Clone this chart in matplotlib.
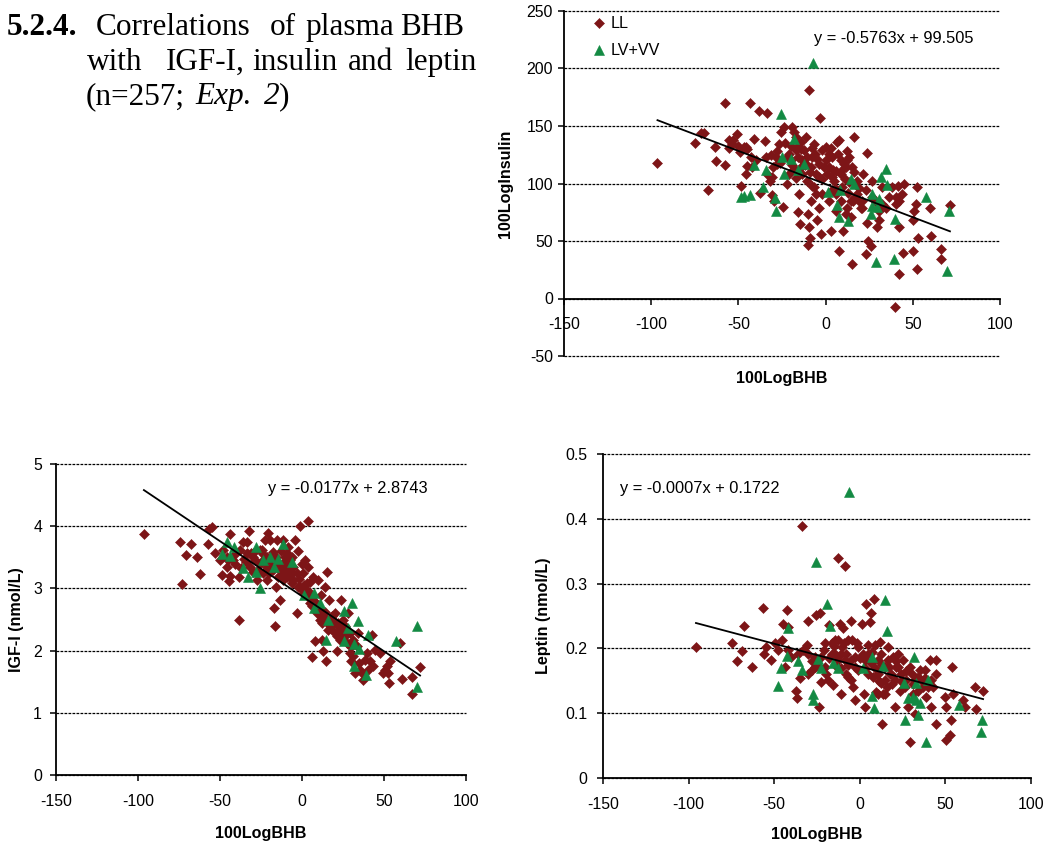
import matplotlib
matplotlib.use("Agg")
import matplotlib.pyplot as plt
import numpy as np

plt.rcParams['font.family'] = ['Liberation Sans', 'DejaVu Sans']

# ---------------- data ----------------
x_ticks = [-150, -100, -50, 0, 50, 100]

# Insulin panel
ins_ll_x = [-96.4, -74.6, -71.7, -70.0, -67.5, -63.7, -62.7, -57.4, -57.4, -55.4,
            -53.0, -51.0, -50.3, -49.3, -48.6, -46.8, -44.9, -45.5, -44.9, -43.2,
            -41.3, -38.0, -37.9, -35.0, -33.8, -32.9, -32.1, -31.2, -31.0, -30.4,
            -29.4, -27.7, -24.5, -25.8, -23.9, -23.5, -22.2, -21.0, -19.1, -18.2,
            -17.2, -16.6, -15.9, -15.3, -15.7, -14.7, -14.3, -13.4, -12.4, -11.5,
            -10.5, -10.3, -9.9, -9.6, -9.4, -9.0, -8.4, -7.6, -6.7, -5.7,
            -5.2, -3.8, -3.1, -2.9, -2.3, -1.9, -1.0, 0.0, 1.0, 1.9,
            2.9, 3.8, 4.8, 5.7, 6.7, 7.6, 7.6, 8.6, 9.6, 10.1,
            11.5, 12.4, 13.4, 14.3, 15.3, 16.3, 16.8, 18.2, 20.1, 21.6,
            22.9, 23.7, 22.9, 23.9, 24.5, 25.8, 26.8, 28.3, 29.3, 30.6,
            32.1, 34.4, 36.3, 38.2, 39.6, 40.2, 41.3, 41.9, 42.1, 44.0,
            44.6, 44.9, 50.4, 50.1, 50.7, 52.0, 52.6, 52.6, 52.8, 59.8,
            60.4, 66.3, 66.3, 71.3,
            -21.0, -20.0, -18.2, -17.2, -14.3, -13.4, -11.9, -10.5, -8.6, -6.7,
            -4.8, -3.8, 1.9, 3.8, 5.7, 7.3, 8.6, 10.5, 12.4, 13.4,
            15.3, 15.7, 18.2, 19.1, 21.0, 3.8, 5.7, -5.7, -7.6, 8.6,
            11.5, 14.3, 26.8, 30.6, 32.5, 40.2, 42.1,
            -40.0, -42.6, -53.5, -55.4, -45.9, -42.0, -34.4, -28.7, -26.8, -30.6,
            -28.0, -26.0, -22.0, -19.0, -17.0, -12.0, -9.0, -6.0, -4.0, -2.0,
            0.0, 2.0, 4.0, 6.0, 9.0, 11.0, 13.0, 16.0, 19.0, 21.0,
            -20.0, -14.0, -8.0, 3.0, 12.0]
ins_ll_y = [118, 135.5, 144, 144, 94, 132, 119.5, 170, 116, 130.5,
            137.5, 143, 132.6, 127, 98, 131.7, 130, 108, 115, 170,
            139, 163, 91.5, 137, 161.6, 107, 102.6, 125, 90, 114,
            85, 117, 80, 145, 149, 135, 99.7, 108, 149, 145,
            140, 131.7, 123, 91, 75, 65, 114, 108, 129, 140,
            102.6, 46.5, 73.5, 62, 181, 53, 85, 123, 97, 108,
            68, 79, 156.7, 56, 129, 91, 114, 131.7, 108, 85,
            59, 123, 102.6, 76.5, 136, 137.5, 41.6, 120, 97, 59,
            114, 79, 123, 70.6, 30, 140, 88, 102.6, 79, 108,
            94, 126.5, 38.7, 66, 50, 46, 102.6, 85, 62, 68,
            97, 79, 88, 97, -7, 82, 98, 21, 62, 91,
            39.5, 99.7, 41.6, 68, 76.5, 82, 97, 25.6, 53, 79,
            54.7, 43, 34.3, 81,
            126, 120, 113, 129, 130, 120, 115.7, 123, 114, 134.6,
            121.5, 105.5, 114, 105.5, 111, 126, 108, 117, 120, 101,
            114, 85, 91, 85, 79, 94, 91, 91, 98, 85,
            73.5, 85, 88, 76.5, 82, 88, 85,
            120, 123, 134.6, 137.5, 131.7, 114, 123, 123, 134.6, 105.5,
            128, 118, 123, 116, 105, 118, 110, 126, 117, 104,
            120, 126, 112, 95, 111, 104, 92, 110, 96, 85,
            133, 136, 131, 131, 128]
ins_lv_x = [-7.5, -25.8, -48.4, -46.7, -43.6, -41.1, -36.0, -34.0, -28.9, -28.7,
            -25.0, -23.7, -19.9, -18.0, -15.7, -12.4, 1.5, 6.5, 8.0, 7.6,
            12.8, 14.3, 16.3, 26.4, 25.8, 26.4, 29.6, 30.6, 31.5, 34.4,
            35.0, 28.7, 39.2, 39.6, 57.4, 69.8, 70.7]
ins_lv_y = [205, 160.8, 88, 89.5, 90.4, 116, 97, 112, 87.5, 76.5,
            123, 108, 121.5, 139, 112, 116.6, 92.4, 81.7, 94, 71,
            67.7, 104, 100, 91, 73.5, 80.8, 79.4, 86.6, 105.5, 112.8,
            99, 31.4, 34.3, 69, 88, 24, 76.5]
ins_slope, ins_intercept = -0.5763, 99.505
ins_yticks = [-50, 0, 50, 100, 150, 200, 250]

# IGF-I panel
igf_ll_x = [-96.4, -74.5, -73.0, -70.8, -67.7, -64.3, -62.2, -57.2, -56.8, -54.7,
            -53.1, -49.0, -50.0, -46.0, -44.3, -43.9, -43.9, -41.9, -38.2, -38.2,
            -36.2, -35.2, -33.4, -32.1, -31.3, -29.7, -28.7, -25.6, -24.6, -23.6,
            -21.6, -20.5, -19.5, -18.5, -17.5, -17.1, -16.3, -15.9, -14.4, -13.4,
            -12.4, -11.4, -10.4, -9.4, -8.3, -7.3, -6.3, -5.3, -4.3, -3.3,
            -2.6, -2.2, -1.2, -0.2, 0.8, 1.8, 2.8, 3.9, 3.9, 4.9,
            5.9, 6.1, 6.9, 7.9, 9.0, 10.0, 11.0, 11.4, 12.0, 13.0,
            14.0, 14.6, 15.0, 16.1, 16.7, 17.5, 19.1, 20.1, 21.6, 22.2,
            23.2, 24.0, 25.2, 26.2, 28.3, 29.3, 29.7, 31.3, 33.4, 34.4,
            35.0, 36.4, 37.4, 39.5, 40.5, 41.5, 42.5, 43.1, 44.5, 51.7,
            52.7, 53.3, 53.7, 59.8, 60.8, 67.0, 67.3, 72.0,
            -23.6, -21.6, -19.5, -17.5, -15.5, -13.4, -11.4, -10.4, -9.4, -8.3,
            -7.3, -5.3, -3.3, -1.2, 0.8, 2.8, 4.9, 6.9, 9.0, 11.0,
            13.0, 15.0, 17.1, 19.1, 21.2, 23.2, 25.2, 27.3, 29.3, 31.3,
            32.3, 35.4, 38.5, 47.6, 49.6, 50.6, -29.7, -33.8, -37.8, -40.9,
            -46.0, -48.0, -31.7, -27.7, -21.6, -25.6, -22.6, -15.5, -11.4, -9.4,
            -6.3,
            -45.0, -41.0, -37.0, -34.0, -30.0, -27.0, -24.0, -20.0, -16.0, -13.0,
            -9.0, -6.0, -2.0, 1.0, 3.0, 5.0, 8.0, 10.0, 12.0, 14.0,
            18.0, 22.0, 24.0, 27.0, 30.0]
igf_ll_y = [3.87, 3.75, 3.07, 3.54, 3.72, 3.50, 3.23, 3.72, 3.95, 3.98,
            3.57, 3.21, 3.46, 3.35, 3.12, 3.87, 3.20, 3.46, 3.19, 2.49,
            3.75, 3.47, 3.75, 3.93, 3.57, 3.27, 3.46, 3.40, 3.62, 3.24,
            3.51, 3.89, 3.78, 3.35, 3.59, 2.68, 2.40, 3.03, 3.19, 2.82,
            3.40, 3.24, 3.51, 3.30, 3.67, 3.19, 3.08, 3.35, 3.78, 2.60,
            3.60, 3.03, 4.00, 3.40, 3.24, 3.46, 3.08, 4.08, 3.35, 2.92,
            2.71, 1.90, 3.19, 2.15, 2.60, 3.14, 2.49, 2.90, 2.17, 1.99,
            3.03, 1.83, 3.27, 2.33, 2.82, 2.39, 2.49, 2.60, 1.99, 2.39,
            2.17, 2.82, 2.49, 2.39, 2.60, 2.28, 1.84, 2.17, 2.07, 2.28,
            1.80, 1.64, 1.52, 1.96, 1.69, 1.83, 2.25, 1.75, 2.01, 1.75,
            1.64, 1.48, 1.83, 2.12, 1.55, 1.57, 1.31, 1.73,
            3.46, 3.35, 3.46, 3.30, 3.40, 3.30, 3.14, 3.35, 3.19, 3.40,
            3.46, 3.14, 3.24, 3.03, 2.92, 2.87, 2.76, 2.82, 2.71, 2.66,
            2.55, 2.47, 2.39, 2.31, 2.23, 2.33, 2.17, 2.12, 1.96, 1.91,
            1.64, 1.69, 1.85, 1.96, 1.64, 1.69, 3.57, 3.57, 3.62, 3.40,
            3.51, 3.62, 3.35, 3.14, 3.14, 3.62, 3.78, 3.78, 3.78, 3.57,
            3.51,
            3.45, 3.55, 3.33, 3.42, 3.50, 3.30, 3.55, 3.25, 3.50, 3.60,
            3.45, 3.25, 3.15, 3.05, 2.98, 3.10, 2.78, 2.60, 2.45, 2.62,
            2.55, 2.45, 2.30, 2.25, 2.05]
igf_lv_x = [-48.8, -46.0, -43.9, -41.3, -35.8, -32.8, -28.1, -27.9, -25.4, -23.6,
            -19.5, -17.1, -14.4, -11.8, -6.3, 1.2, 7.3, 7.5, 11.0, 16.1,
            14.4, 25.8, 25.6, 30.3, 31.7, 31.7, 34.4, 34.8, 40.5, 39.1,
            57.4, 70.4, 70.4, 28.3]
igf_lv_y = [3.55, 3.74, 3.52, 3.67, 3.32, 3.19, 3.66, 3.26, 3.01, 3.46,
            3.51, 3.34, 3.47, 3.71, 3.42, 2.89, 2.92, 2.68, 2.76, 2.49,
            2.17, 2.64, 2.16, 2.76, 2.10, 1.76, 2.47, 2.02, 2.25, 1.60,
            2.16, 2.40, 1.41, 2.36]
igf_slope, igf_intercept = -0.0177, 2.8743
igf_yticks = [0, 1, 2, 3, 4, 5]

# Leptin panel
lep_ll_x = [-95.7, -74.9, -72.0, -69.0, -67.9, -62.8, -56.4, -56.0, -54.5, -51.6,
            -49.6, -47.7, -44.7, -42.8, -41.8, -43.8, -39.9, -37.0, -36.6, -35.0,
            -33.5, -33.1, -31.1, -30.2, -28.2, -26.3, -25.3, -23.3, -23.9, -22.4,
            -20.4, -19.5, -18.1, -16.5, -15.6, -14.6, -13.6, -12.6, -11.7, -10.7,
            -10.3, -9.7, -8.8, -8.8, -7.8, -6.8, -5.3, -4.5, -3.9, -2.9,
            -1.9, -1.0, 1.0, 1.9, 2.5, 2.9, 3.9, 4.9, 5.8, 6.8,
            7.8, 8.4, 8.8, 9.7, 10.7, 11.7, 12.6, 13.0, 13.6, 14.6,
            15.6, 16.5, 17.5, 19.5, 20.4, 21.4, 22.4, 23.3, 24.3, 25.3,
            27.2, 28.2, 29.2, 29.6, 31.1, 32.1, 34.0, 35.0, 36.9, 38.9,
            40.9, 41.8, 42.8, 44.4, 44.7, 44.7, 49.6, 50.6, 50.6, 52.5,
            53.1, 53.9, 54.5, 60.3, 61.3, 67.1, 67.7, 72.0,
            -16.5, -14.6, -12.6, -10.7, -6.8, -4.9, -2.9, -1.0, 2.9, 4.9,
            6.8, 10.7, 12.6, 14.6, 16.5, 18.5, 20.4, 22.4, 26.3, 30.2,
            32.1, 35.8, 37.9, 39.9, 41.8, -20.4, -22.4, -18.5, -7.8, -4.9,
            10.7, 14.6, -30.2, -26.3, -36.0, -30.2, -45.7, -41.8,
            -28.0, -24.0, -21.0, -18.0, -15.0, -13.0, -11.0, -9.0, -7.0, -3.0,
            0.0, 3.0, 5.0, 7.0, 9.0, 11.0, 13.0, 17.0, 19.0, 21.0,
            24.0, 27.0, 31.0, 34.0, 38.0]
lep_ll_y = [0.202, 0.208, 0.180, 0.196, 0.235, 0.171, 0.263, 0.192, 0.202, 0.182,
            0.208, 0.197, 0.237, 0.260, 0.233, 0.171, 0.187, 0.135, 0.123, 0.155,
            0.389, 0.197, 0.205, 0.243, 0.166, 0.187, 0.251, 0.254, 0.110, 0.148,
            0.208, 0.161, 0.236, 0.192, 0.143, 0.213, 0.171, 0.339, 0.238, 0.130,
            0.202, 0.231, 0.327, 0.182, 0.192, 0.156, 0.243, 0.213, 0.141, 0.120,
            0.208, 0.166, 0.238, 0.192, 0.130, 0.110, 0.269, 0.161, 0.241, 0.254,
            0.156, 0.277, 0.206, 0.133, 0.182, 0.210, 0.146, 0.084, 0.130, 0.171,
            0.141, 0.202, 0.161, 0.187, 0.110, 0.171, 0.192, 0.135, 0.161, 0.182,
            0.151, 0.110, 0.171, 0.056, 0.130, 0.099, 0.156, 0.166, 0.141, 0.125,
            0.182, 0.110, 0.141, 0.182, 0.083, 0.161, 0.125, 0.110, 0.058, 0.066,
            0.090, 0.171, 0.130, 0.120, 0.110, 0.141, 0.106, 0.135,
            0.208, 0.192, 0.213, 0.192, 0.213, 0.182, 0.187, 0.202, 0.182, 0.192,
            0.177, 0.161, 0.192, 0.151, 0.182, 0.161, 0.151, 0.171, 0.141, 0.161,
            0.151, 0.151, 0.166, 0.141, 0.151, 0.171, 0.187, 0.151, 0.161, 0.151,
            0.130, 0.130, 0.161, 0.171, 0.192, 0.192, 0.213, 0.197,
            0.180, 0.172, 0.197, 0.185, 0.203, 0.182, 0.170, 0.209, 0.175, 0.172,
            0.185, 0.170, 0.205, 0.195, 0.170, 0.150, 0.175, 0.172, 0.145, 0.180,
            0.150, 0.165, 0.145, 0.135, 0.155]
lep_lv_x = [-6.2, -25.7, -18.9, 14.6, -17.5, -42.2, 15.8, -42.8, -24.3, -36.0,
            -46.1, -33.7, -22.4, -15.6, -12.6, -47.7, -27.6, -27.6, 1.6, 7.2,
            13.6, 7.2, 8.2, 31.7, 25.9, 32.7, 39.9, 28.2, 31.1, 32.9,
            35.0, 26.3, 34.0, 38.9, 58.0, 71.6, 71.0]
lep_lv_y = [0.441, 0.333, 0.268, 0.275, 0.235, 0.231, 0.227, 0.188, 0.184, 0.181,
            0.170, 0.167, 0.170, 0.178, 0.170, 0.142, 0.129, 0.120, 0.169, 0.186,
            0.173, 0.126, 0.108, 0.186, 0.146, 0.146, 0.152, 0.123, 0.125, 0.120,
            0.115, 0.090, 0.097, 0.056, 0.112, 0.090, 0.071]
lep_slope, lep_intercept = -0.0007, 0.1722
lep_yticks = [0, 0.1, 0.2, 0.3, 0.4, 0.5]

series_names = ["LL", "LV+VV"]
LL_COLOR = "#7d1517"
LV_COLOR = "#138a43"

# ---------------- figure ----------------
W, H = 1061, 850
fig = plt.figure(figsize=(W / 100, H / 100), dpi=100)


def axes_px(l, t, r, b):
    return fig.add_axes([l / W, 1 - b / H, (r - l) / W, (b - t) / H])


def draw_panel(ax, llx, lly, lvx, lvy, slope, intercept, yticks, ylabel,
               ylab_x, xlab_y, ypad, eq_xy, zero_spine=False):
    ax.plot(llx, lly, linestyle='none', marker='D', ms=5.2, color=LL_COLOR,
            mec=LL_COLOR, mew=0.4, zorder=3, label=series_names[0])
    ax.plot(lvx, lvy, linestyle='none', marker='^', ms=7.4, color=LV_COLOR,
            mec=LV_COLOR, mew=0.4, zorder=4, label=series_names[1])
    allx = np.array(list(llx) + list(lvx))
    xs = np.array([allx.min(), allx.max()])
    ax.plot(xs, slope * xs + intercept, color='black', lw=1.3, zorder=5)
    ax.set_xlim(-150, 100)
    ax.set_ylim(yticks[0], yticks[-1])
    ax.set_xticks(x_ticks)
    ax.set_xticklabels([f"{v:g}" for v in x_ticks])
    ax.set_yticks(yticks)
    ax.set_yticklabels([f"{v:g}" for v in yticks])
    for s in ('top', 'right'):
        ax.spines[s].set_visible(False)
    for s in ('left', 'bottom'):
        ax.spines[s].set_linewidth(1.3)
        ax.spines[s].set_color('black')
        ax.spines[s].set_zorder(2.5)
    if zero_spine:
        ax.spines['bottom'].set_position(('data', 0))
    for v in yticks:
        ax.axhline(v, linestyle=(0, (2.2, 1.0)), color='black', lw=0.9,
                   zorder=1, clip_on=False)
    ax.tick_params(axis='both', direction='out', length=4.5, width=1.1,
                   labelsize=11.4, colors='black')
    ax.tick_params(axis='x', pad=9)
    ax.tick_params(axis='y', pad=ypad)
    ax.set_xlabel("100LogBHB", fontsize=11.6, fontweight='bold', va='top')
    ax.xaxis.set_label_coords(0.5, xlab_y)
    ax.set_ylabel(ylabel, fontsize=11.6, fontweight='bold')
    ax.yaxis.set_label_coords(ylab_x, 0.5)
    sign = '+' if intercept >= 0 else '-'
    eq = f"y = {slope:g}x {sign} {abs(intercept):g}"
    ax.text(eq_xy[0], eq_xy[1], eq, fontsize=11.8, ha='left', va='center',
            zorder=6)


# Top: insulin
ax1 = axes_px(564, 11, 1000, 356)
draw_panel(ax1, ins_ll_x, ins_ll_y, ins_lv_x, ins_lv_y, ins_slope,
           ins_intercept, ins_yticks, "100LogInsulin", -0.118, -0.043, 3.5,
           (-6.7, 226), zero_spine=True)
ax1.legend(loc='upper left', bbox_to_anchor=(0.058, 0.985), frameon=False,
           handletextpad=0.15, labelspacing=0.75, borderaxespad=0,
           borderpad=0, handlelength=1.2, fontsize=11.6)

# Bottom-left: IGF-I
ax2 = axes_px(56, 464, 466, 775)
draw_panel(ax2, igf_ll_x, igf_ll_y, igf_lv_x, igf_lv_y, igf_slope,
           igf_intercept, igf_yticks, "IGF-I (nmol/L)", -0.078, -0.165, 5.5,
           (-20.5, 4.61))

# Bottom-right: Leptin
ax3 = axes_px(603, 454, 1031, 778)
draw_panel(ax3, lep_ll_x, lep_ll_y, lep_lv_x, lep_lv_y, lep_slope,
           lep_intercept, lep_yticks, "Leptin (nmol/L)", -0.122, -0.150, 7,
           (-140, 0.4475))

# ---------------- heading text (justified words) ----------------
serif = ['Liberation Serif', 'DejaVu Serif']
fs = 22.5


def ftext(xp, yp, s, **kw):
    fig.text(xp / W, 1 - yp / H, s, fontsize=fs, family=serif, va='baseline',
             ha='left', **kw)


ftext(7, 35, "5.2.4.", fontweight='bold')
for xp, w in [(96, "Correlations"), (270, "of"), (305, "plasma"), (400, "BHB")]:
    ftext(xp, 35, w)
for xp, w in [(87, "with"), (166, "IGF-I,"), (252, "insulin"), (348, "and"),
              (405, "leptin")]:
    ftext(xp, 70, w)
ftext(86, 104, "(n=257;")
ftext(195, 104, "Exp.", style='italic')
ftext(264, 104, "2", style='italic')
ftext(279, 104, ")")

fig.savefig("out.png", dpi=100)
